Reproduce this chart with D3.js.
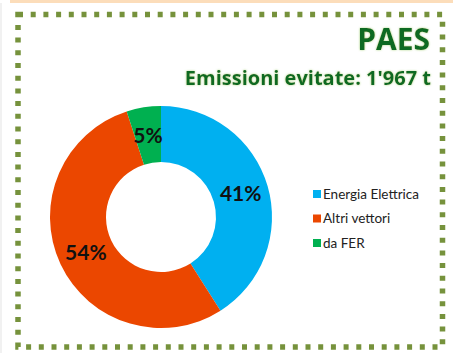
<!DOCTYPE html>
<html>
<head>
<meta charset="utf-8">
<script src="https://cdn.jsdelivr.net/npm/d3@7"></script>
<style>
  html, body { margin: 0; padding: 0; background: #fff; }
  svg { display: block; }
</style>
</head>
<body>
<svg id="chart" width="453" height="353"></svg>
<script>
// Avoided emissions by source (percent)
const categories = ["Energia Elettrica", "Altri vettori", "da FER"];
const shares = [41, 54, 5];
const colors = ["#00B0F0", "#EB4700", "#00B050"];
const title = "PAES";
const subtitle = "Emissioni evitate: 1'967 t";

const svg = d3.select("#chart");
const W = 453, H = 353;
const font = "Lato, 'Open Sans', sans-serif";
const titleFont = "'Open Sans', Lato, sans-serif";

// page edges
svg.append("rect").attr("x", 10).attr("y", 0).attr("width", W - 10).attr("height", 3)
  .attr("fill", "#FCDDBA");
svg.append("rect").attr("x", 0).attr("y", 3).attr("width", 2).attr("height", H - 3)
  .attr("fill", "#F1F1F1");

// dotted frame
const frame = { x: 18, y: 14.5, w: 424.5, h: 332.5 };
svg.append("rect")
  .attr("x", frame.x).attr("y", frame.y)
  .attr("width", frame.w).attr("height", frame.h)
  .attr("fill", "none")
  .attr("stroke", "#76923C")
  .attr("stroke-width", 5.5)
  .attr("stroke-dasharray", "5 7.7");

// soft light-green halo behind the heading text
const defs = svg.append("defs");
const glow = defs.append("filter").attr("id", "glow").attr("x", "-10%").attr("y", "-30%")
  .attr("width", "120%").attr("height", "160%");
glow.append("feGaussianBlur").attr("in", "SourceAlpha").attr("stdDeviation", 1.2).attr("result", "b");
glow.append("feFlood").attr("flood-color", "#A8D27A").attr("flood-opacity", 0.9);
glow.append("feComposite").attr("in2", "b").attr("operator", "in").attr("result", "s");
const fm = glow.append("feMerge");
fm.append("feMergeNode").attr("in", "s");
fm.append("feMergeNode").attr("in", "SourceGraphic");

svg.append("text")
  .attr("x", 430).attr("y", 50)
  .attr("text-anchor", "end")
  .attr("font-family", titleFont).attr("font-weight", 700).attr("font-size", 30)
  .attr("fill", "#0E6B22").attr("filter", "url(#glow)")
  .text(title);

svg.append("text")
  .attr("x", 431).attr("y", 85)
  .attr("text-anchor", "end")
  .attr("font-family", titleFont).attr("font-weight", 700).attr("font-size", 20)
  .attr("fill", "#0E6B22").attr("filter", "url(#glow)")
  .text(subtitle);

// donut
const cx = 161, cy = 217, rOuter = 111, rInner = 55;
const data = categories.map((c, i) => ({ name: c, value: shares[i], color: colors[i] }));
const pie = d3.pie().value(d => d.value).sort(null);
const arc = d3.arc().innerRadius(rInner).outerRadius(rOuter);
const labelArc = d3.arc().innerRadius(rInner + 2).outerRadius(rOuter - 2);

const g = svg.append("g").attr("transform", `translate(${cx},${cy})`);
const arcs = pie(data);
g.selectAll("path.slice").data(arcs).join("path")
  .attr("class", "slice")
  .attr("d", arc)
  .attr("fill", d => d.data.color);

g.selectAll("text.pct").data(arcs).join("text")
  .attr("class", "pct")
  .attr("transform", d => `translate(${labelArc.centroid(d)})`)
  .attr("text-anchor", "middle")
  .attr("dy", "0.36em")
  .attr("font-family", font).attr("font-weight", 700).attr("font-size", 21)
  .attr("fill", "#111")
  .text(d => d.data.value + "%");

// legend
const legend = svg.append("g").attr("transform", "translate(313,194)");
const item = legend.selectAll("g").data(data).join("g")
  .attr("transform", (d, i) => `translate(0,${i * 24.5})`);
item.append("rect").attr("x", 0).attr("y", -4).attr("width", 8).attr("height", 8)
  .attr("fill", d => d.color);
item.append("text").attr("x", 10).attr("y", 0).attr("dy", "0.35em")
  .attr("font-family", font).attr("font-size", 13.5).attr("fill", "#222")
  .text(d => d.name);
</script>
</body>
</html>
